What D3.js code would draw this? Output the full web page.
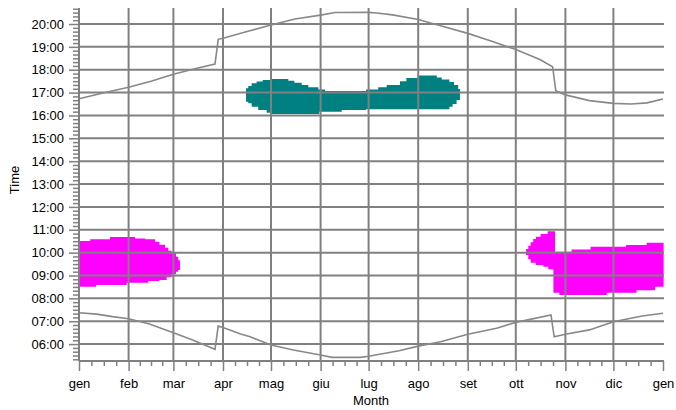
<!DOCTYPE html>
<html>
<head>
<meta charset="utf-8">
<script src="https://cdn.jsdelivr.net/npm/d3@7"></script>
<style>
  html, body { margin: 0; padding: 0; background: #fff; }
  svg { display: block; font-family: "Liberation Sans", Arial, sans-serif; }
</style>
</head>
<body>
<svg id="chart" width="676" height="410"></svg>
<script>
// ---- data ----
const monthLabels = ["gen","feb","mar","apr","mag","giu","lug","ago","set","ott","nov","dic","gen"];
const monthStartDays = [0,31,59,90,120,151,181,212,243,273,304,334,365];
const hourTicks = [6,7,8,9,10,11,12,13,14,15,16,17,18,19,20];

// sunset (day of year, hour)
const sunsetDays  = [0,15,31,45,59,73,85,87,90,105,120,135,151,160,181,186,196,212,226,243,258,273,288,296,298,304,319,334,345,355,365];
const sunsetHours = [16.73,16.98,17.23,17.5,17.8,18.05,18.25,19.33,19.38,19.67,19.96,20.22,20.39,20.5,20.51,20.48,20.4,20.2,19.92,19.59,19.25,18.88,18.45,18.13,17.08,16.9,16.65,16.53,16.5,16.55,16.72];

// sunrise (day of year, hour)
const sunriseDays  = [0,11,21,31,44,59,71,85,87,90,101,107,120,134,151,158,176,181,200,212,226,243,261,273,295,297,304,319,334,352,365];
const sunriseHours = [7.37,7.31,7.2,7.11,6.88,6.5,6.18,5.77,6.79,6.73,6.44,6.32,5.96,5.74,5.52,5.42,5.42,5.47,5.71,5.91,6.1,6.43,6.69,6.95,7.27,6.32,6.43,6.62,6.98,7.23,7.35];

// shaded regions: [day, lowHour, highHour] (step after)
const magentaWinter = [
  [0,8.51,10.51],[7,8.51,10.58],[10.6,8.58,10.58],[19.4,8.58,10.68],[29.8,8.68,10.68],
  [35,8.68,10.62],[41.3,8.68,10.58],[43.3,8.76,10.58],[47.5,8.76,10.48],[50.2,8.8,10.35],
  [53.75,8.8,10.21],[54.8,8.92,10.21],[55.8,8.92,10.08],[57.9,9.06,9.97],[60.6,9.16,9.82],
  [62,9.24,9.67],[63.1,9.24,9.67]
];
const magentaAutumn = [
  [279.4,9.9,10.16],[280.8,9.71,10.3],[282.3,9.56,10.45],[283.9,9.56,10.6],[285.6,9.46,10.7],
  [288.5,9.46,10.81],[290.2,9.38,10.81],[292.9,9.38,10.94],[293.3,9.27,10.94],[296.5,8.25,10.94],
  [297.5,8.25,10.04],[300.2,8.15,10.04],[307.9,8.15,10.14],[319.8,8.15,10.26],[329.8,8.25,10.26],
  [341.9,8.25,10.33],[348.5,8.36,10.33],[354.8,8.36,10.43],[360,8.51,10.43],[365.4,8.51,10.43]
];
const tealSummer = [
  [104.4,16.6,17.19],[105.8,16.53,17.29],[107.9,16.38,17.41],[111,16.38,17.48],[112,16.24,17.48],
  [114.8,16.24,17.55],[117.3,16.12,17.55],[119.4,16.12,17.59],[120.4,16.06,17.59],[130.8,16.06,17.52],
  [134.6,16.06,17.43],[139.2,16.06,17.33],[143.3,16.06,17.23],[149.6,16.06,17.14],[150.2,16.16,17.14],
  [153.8,16.16,17.07],[164.2,16.24,17.07],[179.4,16.27,17.14],[187,16.27,17.23],[192.3,16.27,17.33],
  [200.6,16.27,17.5],[204.6,16.27,17.64],[212,16.27,17.75],[223.6,16.27,17.66],[226.7,16.27,17.57],
  [231.5,16.38,17.46],[233.5,16.5,17.46],[234.4,16.5,17.33],[236,16.68,17.33],[237,16.68,17.16],
  [238.1,16.68,17.16]
];

// ---- layout ----
const svg = d3.select("#chart");
const mLeft = 79, mRight = 663, mTop = 8, mBottom = 361;
const x = d3.scaleLinear().domain([0, 365]).range([mLeft, mRight]);
const y = d3.scaleLinear().domain([5.26, 20.7]).range([mBottom, mTop]);
const gridColor = "#808080";

// regions
const area = d3.area()
  .x(d => x(d[0])).y0(d => y(d[1])).y1(d => y(d[2]))
  .curve(d3.curveStepAfter);
svg.append("path").datum(magentaWinter).attr("d", area).attr("fill", "#ff00ff");
svg.append("path").datum(magentaAutumn).attr("d", area).attr("fill", "#ff00ff");
svg.append("path").datum(tealSummer).attr("d", area).attr("fill", "#008080");

// grid
const grid = svg.append("g");
grid.selectAll("line.h").data(hourTicks).join("line")
  .attr("x1", mLeft).attr("x2", mRight + 1)
  .attr("y1", d => y(d)).attr("y2", d => y(d))
  .attr("stroke", gridColor).attr("stroke-width", 2);
grid.selectAll("line.v").data(monthStartDays.slice(1, 12)).join("line")
  .attr("x1", d => x(d)).attr("x2", d => x(d))
  .attr("y1", mTop).attr("y2", mBottom)
  .attr("stroke", gridColor).attr("stroke-width", 2);

// sun lines
const line = d3.line().x(d => x(d[0])).y(d => y(d[1]));
svg.append("path").datum(sunsetDays.map((d, i) => [d, sunsetHours[i]]))
  .attr("d", line).attr("fill", "none").attr("stroke", "#888").attr("stroke-width", 1.6);
svg.append("path").datum(sunriseDays.map((d, i) => [d, sunriseHours[i]]))
  .attr("d", line).attr("fill", "none").attr("stroke", "#888").attr("stroke-width", 1.6);

// y axis
const pad2 = n => String(n).padStart(2, "0");
const minorY = d3.range(Math.ceil(5.26 * 6), Math.floor(20.7 * 6) + 1).map(v => v / 6).filter(v => Math.abs(v - Math.round(v)) > 1e-6);
const yMinor = svg.append("g").attr("transform", `translate(${mLeft},0)`)
  .call(d3.axisLeft(y).tickValues(minorY).tickSize(6).tickFormat(""));
const yMajor = svg.append("g").attr("transform", `translate(${mLeft},0)`)
  .call(d3.axisLeft(y).tickValues(hourTicks).tickSize(10).tickPadding(5).tickFormat(d => pad2(d) + ":00"));

// x axis
const minorX = [];
for (let m = 0; m < 12; m++) {
  const a = monthStartDays[m], b = monthStartDays[m + 1];
  for (let k = 1; k < 4; k++) minorX.push(a + (b - a) * k / 4);
}
const xMinor = svg.append("g").attr("transform", `translate(0,${mBottom})`)
  .call(d3.axisBottom(x).tickValues(minorX).tickSize(5).tickFormat(""));
const xMajor = svg.append("g").attr("transform", `translate(0,${mBottom})`)
  .call(d3.axisBottom(x).tickValues(monthStartDays).tickSize(10).tickPadding(8)
    .tickFormat((d, i) => monthLabels[i]));

[yMinor, yMajor, xMinor, xMajor].forEach(g => {
  g.select(".domain").attr("stroke", gridColor).attr("stroke-width", 2);
  g.selectAll(".tick line").attr("stroke", gridColor).attr("stroke-width", 1.5);
  g.selectAll("text").attr("fill", "#000").attr("font-size", 13)
    .attr("font-family", "'Liberation Sans', Arial, sans-serif");
});
yMajor.select(".domain").attr("d", `M0,${mTop}V${mBottom}`);
xMajor.select(".domain").attr("d", `M${mLeft},0H${mRight + 1}`);
yMinor.select(".domain").remove();
xMinor.select(".domain").remove();

// titles
svg.append("text").attr("x", (mLeft + mRight) / 2).attr("y", 405)
  .attr("text-anchor", "middle").attr("font-size", 13).text("Month");
svg.append("text").attr("transform", "translate(19,180) rotate(-90)")
  .attr("text-anchor", "middle").attr("font-size", 13).text("Time");
</script>
</body>
</html>
